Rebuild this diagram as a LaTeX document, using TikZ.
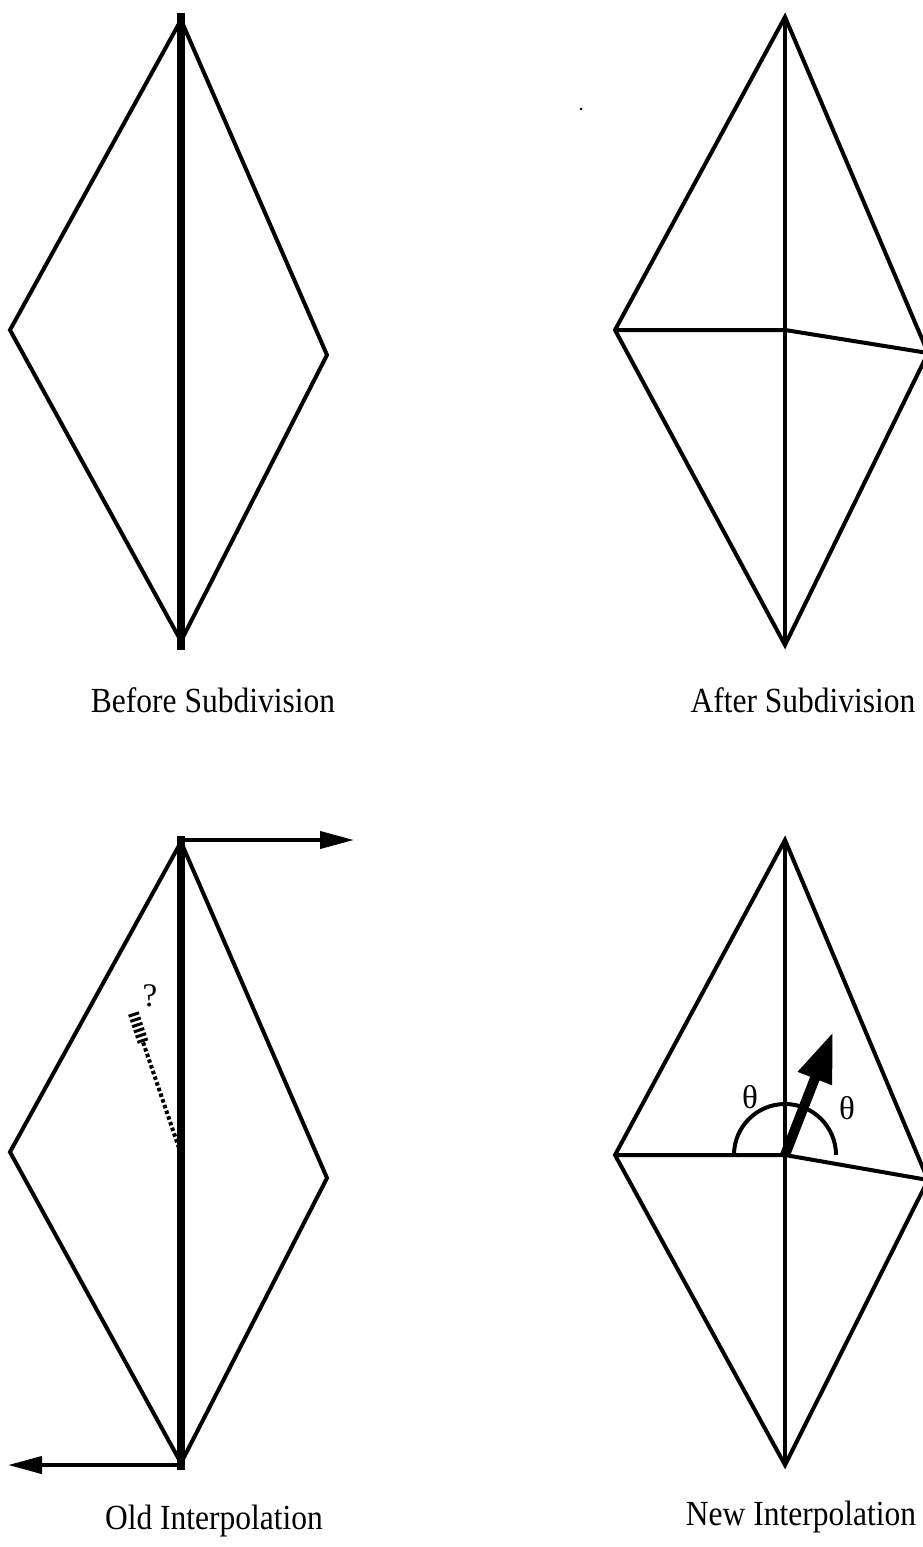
\documentclass[tikz,border=0pt]{standalone}
\usepackage{graphicx}
\usepackage{fontspec}
\setmainfont{Liberation Serif}
\usetikzlibrary{arrows.meta}
\newcommand{\tallbox}[1]{\scalebox{1}[1.12]{#1}}
\begin{document}
\begin{tikzpicture}[x=1pt,y=-1pt,
  edge/.style={line width=4pt, line join=miter},
  heavy/.style={line width=8.5pt},
  arr/.style={line width=4pt, -{Triangle[length=34pt,width=17pt]}},
  bigarr/.style={line width=10pt, -{Triangle[length=50pt,width=34pt]}},
  hatch/.style={line width=4pt, dash pattern=on 3.5pt off 2.5pt},
  hatchend/.style={line width=11pt, dash pattern=on 3pt off 2.5pt},
  lbl/.style={anchor=base, font=\fontsize{31.5}{33}\selectfont, inner sep=0pt},
  sym/.style={font=\fontsize{33}{35}\selectfont, inner sep=0pt}]
\useasboundingbox (0,0) rectangle (923,1547);
% ---------- Before Subdivision ----------
\coordinate (A1) at (181,20);
\coordinate (B1) at (10,330);
\coordinate (C1) at (327,355);
\coordinate (D1) at (181,641);
\coordinate (A1t) at (181,13);
\coordinate (D1b) at (181,650);
\draw[edge] (A1) -- (B1) -- (D1) -- (C1) -- cycle;
\draw[heavy] (A1t) -- (D1b);
\node[lbl] (l1) at (213,712) {\tallbox{Before Subdivision}};
% ---------- After Subdivision ----------
\coordinate (A2) at (785,17);
\coordinate (B2) at (615,330);
\coordinate (M2) at (785,330);
\coordinate (C2) at (928,353);
\coordinate (D2) at (785,645);
\draw[edge] (A2) -- (B2) -- (D2) -- (C2) -- cycle;
\draw[edge] (A2) -- (D2);
\draw[edge] (B2) -- (M2) -- (C2);
\fill (581,109) circle (1.5pt);
\node[lbl] (l2) at (803,712) {\tallbox{After Subdivision}};
% ---------- Old Interpolation ----------
\coordinate (A3) at (181,842);
\coordinate (B3) at (10,1152);
\coordinate (C3) at (327,1178);
\coordinate (D3) at (181,1463);
\coordinate (A3t) at (181,836);
\coordinate (D3b) at (181,1470);
\coordinate (E3) at (354,840);
\coordinate (F3) at (8,1465);
\coordinate (P3) at (179,1148);
\coordinate (Q3) at (143,1042);
\coordinate (R3) at (133,1012);
\draw[edge] (A3) -- (B3) -- (D3) -- (C3) -- cycle;
\draw[heavy] (A3t) -- (D3b);
\draw[arr] (A3t |- E3) -- (E3);
\draw[arr] (D3 |- F3) -- (F3);
\draw[hatch] (P3) -- (Q3);
\draw[hatchend] (Q3) -- (R3);
\node[sym] (q) at (150,996) {?};
\node[lbl] (l3) at (214,1529) {\tallbox{Old Interpolation}};
% ---------- New Interpolation ----------
\coordinate (A4) at (785,840);
\coordinate (B4) at (615,1155);
\coordinate (M4) at (785,1155);
\coordinate (C4) at (928,1180);
\coordinate (D4) at (785,1465);
\coordinate (T4) at (833,1032);
\draw[edge] (A4) -- (B4) -- (D4) -- (C4) -- cycle;
\draw[edge] (A4) -- (D4);
\draw[edge] (B4) -- (M4) -- (C4);
\draw[edge] ([xshift=-51pt]M4) arc[start angle=180, end angle=0, radius=51pt];
\draw[bigarr] (M4) -- (T4);
\node[sym] (t1) at (750,1097) {θ};
\node[sym] (t2) at (847,1108) {θ};
\node[lbl] (l4) at (801,1525) {\tallbox{New Interpolation}};
\end{tikzpicture}
\end{document}
